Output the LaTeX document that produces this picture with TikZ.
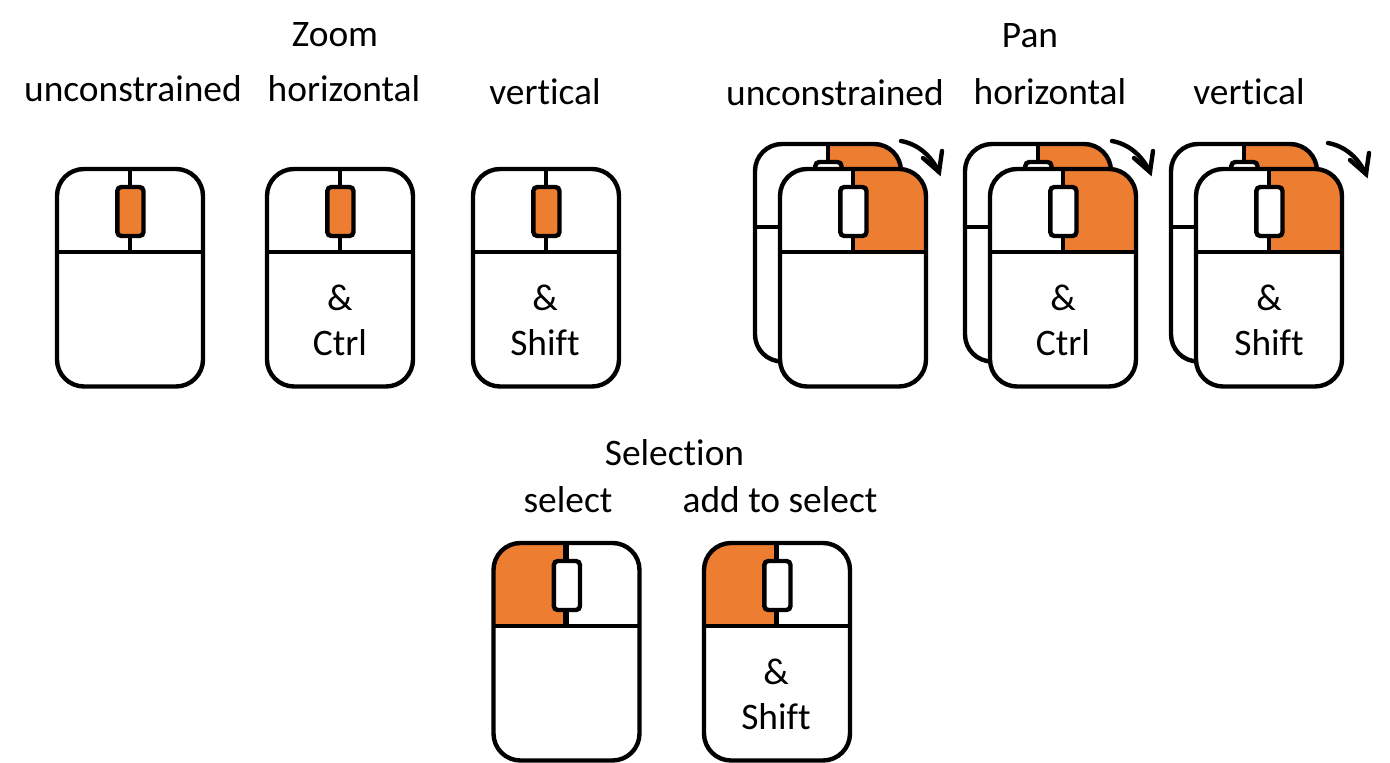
\documentclass[tikz,border=0pt]{standalone}
\usepackage{fontspec}
\setmainfont[Ligatures=NoCommon]{Carlito}
\definecolor{mouseorange}{HTML}{ED7D31}
\tikzset{
  body/.style={draw=black,line width=4.4pt,rounded corners=27pt},
  rule/.style={draw=black,line width=4.4pt},
  lbl/.style={anchor=base,inner sep=0pt,font=\fontsize{37.4}{37.4}\selectfont,text=black},
  turn/.style={draw=black,line width=4.4pt,line cap=round,line join=miter}
}
% #1 left, #2 top, #3 scroll wheel fill, #4 button fill (0 none, 1 left, 2 right)
\newcommand{\mousebody}[4]{%
  \begin{scope}[shift={(#1,#2)}]
    \fill[white,rounded corners=27pt] (0,0) rectangle (146,217.5);
    \begin{scope}
      \clip[rounded corners=27pt] (0,0) rectangle (146,217.5);
      \ifnum#4=1 \fill[mouseorange] (0,0) rectangle (73,83); \fi
      \ifnum#4=2 \fill[mouseorange] (73,0) rectangle (146,83); \fi
    \end{scope}
    \draw[body] (0,0) rectangle (146,217.5);
    \draw[rule] (0,83) -- (146,83);
    \ifnum#4=1
      \draw[rule,line width=5.5pt] (72.5,0) -- (72.5,83);
    \else
      \draw[rule] (73,0) -- (73,83);
    \fi
    \draw[rule,fill=#3,rounded corners=4pt] (60.3,18) rectangle (86.5,67);
  \end{scope}}
\begin{document}
\begin{tikzpicture}[x=1pt,y=-1pt]
\useasboundingbox (0,0) rectangle (1390,763);
% Zoom
\mousebody{57}{169}{mouseorange}{0}
\mousebody{267}{169}{mouseorange}{0}
\mousebody{473}{169}{mouseorange}{0}
% Pan
\mousebody{755}{144}{white}{2}
\mousebody{780}{169}{white}{2}
\mousebody{965}{144}{white}{2}
\mousebody{990}{169}{white}{2}
\mousebody{1171}{144}{white}{2}
\mousebody{1196}{169}{white}{2}
% Selection
\mousebody{493.5}{543}{white}{1}
\mousebody{704}{543}{white}{1}
% Rotation arrows
\foreach \dx/\dy in {0/0,211/0,427/2}{
  \begin{scope}[xshift=\dx pt,yshift=-\dy pt]
    \draw[turn] (901,141) .. controls (917,144) and (930,154) .. (939,172);
    \draw[turn] (923,158) -- (939,172) -- (942,151);
  \end{scope}}
% Labels
\node[lbl] (zoomt) at (335,46) {Zoom};
\node[lbl] (zu) at (133,101) {unconstrained};
\node[lbl] (zh) at (344,101) {horizontal};
\node[lbl] (zv) at (545,104) {vertical};
\node[lbl] (pant) at (1030,47) {Pan};
\node[lbl] (pu) at (835,105) {unconstrained};
\node[lbl] (ph) at (1050,104) {horizontal};
\node[lbl] (pv) at (1249,104) {vertical};
\node[lbl] (selt) at (674.5,465) {Selection};
\node[lbl] (ss) at (568,512) {select};
\node[lbl] (sa) at (780,512) {add to select};
\node[lbl] (a1) at (340,310) {\&};
\node[lbl] (c1) at (340,355) {Ctrl};
\node[lbl] (a2) at (545,310) {\&};
\node[lbl] (s2) at (545,355) {Shift};
\node[lbl] (a3) at (1063,310) {\&};
\node[lbl] (c3) at (1063,355) {Ctrl};
\node[lbl] (a4) at (1269,310) {\&};
\node[lbl] (s4) at (1269,355) {Shift};
\node[lbl] (a5) at (776,684) {\&};
\node[lbl] (s5) at (776,729) {Shift};
\end{tikzpicture}
\end{document}
